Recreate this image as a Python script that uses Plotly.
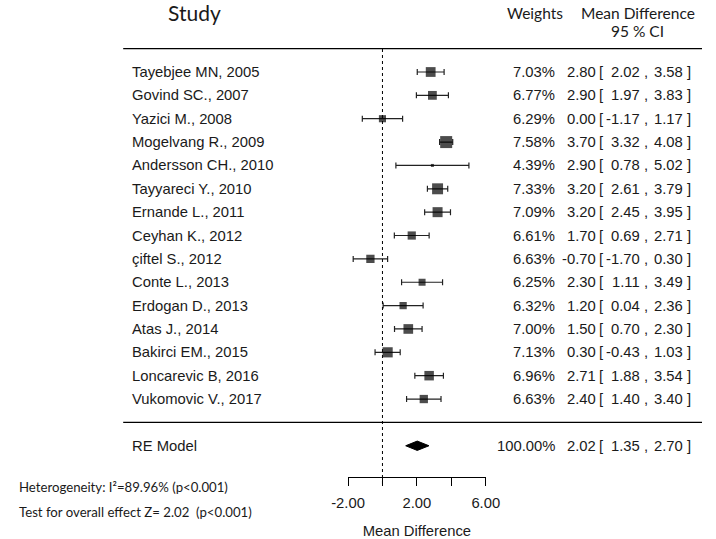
import plotly.graph_objects as go

studies = ["Tayebjee MN, 2005", "Govind SC., 2007", "Yazici M., 2008", "Mogelvang R., 2009",
           "Andersson CH., 2010", "Tayyareci Y., 2010", "Ernande L., 2011", "Ceyhan K., 2012",
           "çiftel S., 2012", "Conte L., 2013", "Erdogan D., 2013", "Atas J., 2014",
           "Bakirci EM., 2015", "Loncarevic B, 2016", "Vukomovic V., 2017"]
weights = [7.03, 6.77, 6.29, 7.58, 4.39, 7.33, 7.09, 6.61, 6.63, 6.25, 6.32, 7.00, 7.13, 6.96, 6.63]
est = [2.80, 2.90, 0.00, 3.70, 2.90, 3.20, 3.20, 1.70, -0.70, 2.30, 1.20, 1.50, 0.30, 2.71, 2.40]
lower = [2.02, 1.97, -1.17, 3.32, 0.78, 2.61, 2.45, 0.69, -1.70, 1.11, 0.04, 0.70, -0.43, 1.88, 1.40]
upper = [3.58, 3.83, 1.17, 4.08, 5.02, 3.79, 3.95, 2.71, 0.30, 3.49, 2.36, 2.30, 1.03, 3.54, 3.40]

re_label = "RE Model"
re_weight = 100.00
re_est, re_lower, re_upper = 2.02, 1.35, 2.70

tick_vals = [-2, 0, 2, 4, 6]
tick_text = ["-2.00", "", "2.00", "", "6.00"]
het_text = "Heterogeneity: I²=89.96% (p<0.001)"
test_text = "Test for overall effect Z= 2.02\u00a0 (p<0.001)"

W, H = 716, 539
ARIAL = "Liberation Sans, Arial, sans-serif"
CAL = "Lato, Carlito, Calibri, sans-serif"
TXT = "#1a1a1a"
FS = 14.8

rows = list(range(1, len(studies) + 1))
re_row = len(studies) + 2

def px(x):
    return x / W

def py(y):
    return 1 - y / H

# marker size from weights (metafor-like scaling)
wmin, wmax = min(weights), max(weights)
sizes = [3 + 9 * ((w - wmin) / (wmax - wmin)) ** 1.5 for w in weights]

fig = go.Figure()

fig.add_trace(go.Scatter(
    x=est, y=rows, mode="markers",
    marker=dict(symbol="square", size=sizes, color="black", line=dict(width=0)),
    error_x=dict(type="data", symmetric=False,
                 array=[u - e for u, e in zip(upper, est)],
                 arrayminus=[e - l for e, l in zip(est, lower)],
                 color="#222222", thickness=1.2, width=3),
    showlegend=False, hoverinfo="skip", cliponaxis=False))

# RE diamond
h = 0.2
fig.add_trace(go.Scatter(
    x=[re_lower, re_est, re_upper, re_est, re_lower],
    y=[re_row, re_row - h, re_row, re_row + h, re_row],
    mode="lines", fill="toself", fillcolor="black",
    line=dict(color="black", width=1), showlegend=False, hoverinfo="skip"))

shapes = []
for yy in [0, len(studies) + 1]:
    shapes.append(dict(type="line", xref="paper", yref="y", x0=px(111), x1=1,
                       y0=yy, y1=yy, line=dict(color="black", width=1.3)))
shapes.append(dict(type="line", xref="x", yref="paper", x0=0, x1=0,
                   y0=py(49), y1=py(485), line=dict(color="black", width=1, dash="dot")))
fig.update_layout(shapes=shapes)

ann = []
def A(text, x, y, xanchor="left", yref="y", font=ARIAL, size=FS):
    ann.append(dict(text=text, x=x, y=y, xref="paper", yref=yref, xanchor=xanchor,
                    yanchor="middle", showarrow=False, borderpad=0, borderwidth=0,
                    font=dict(family=font, size=size, color=TXT)))

def fmt(v):
    return f"{v:.2f}"

def row_text(label, w, e, lo, hi, r):
    A(label, px(120), r)
    A(f"{w:.2f}%", px(562), r, "right")
    A(fmt(e), px(605), r, "right")
    A("[", px(608), r, "left")
    A(fmt(lo), px(651), r, "right")
    A(",", px(655), r, "left")
    A(fmt(hi), px(696), r, "right")
    A("]", px(700), r, "left")

for i, r in enumerate(rows):
    row_text(studies[i], weights[i], est[i], lower[i], upper[i], r)
row_text(re_label, re_weight, re_est, re_lower, re_upper, re_row)

# headers
A("Study", px(186), py(13), "center", "paper", CAL, 21)
A("Weights", px(541), py(13), "center", "paper", CAL, 15.5)
A("Mean Difference", px(649), py(13), "center", "paper", CAL, 15.5)
A("95 % CI", px(649), py(31), "center", "paper", CAL, 15.5)
# footer
A(het_text, px(2), py(487), "left", "paper", CAL, 13.2)
A(test_text, px(2), py(512), "left", "paper", CAL, 13.2)

fig.update_layout(annotations=ann)

fig.update_layout(
    width=W, height=H, margin=dict(l=0, r=0, t=0, b=0),
    paper_bgcolor="white", plot_bgcolor="rgba(0,0,0,0)",
    xaxis=dict(domain=[px(346), px(490)], range=[-2, 6], anchor="free",
               position=(H - 477) / H, showgrid=False, zeroline=False,
               showline=True, linecolor="black", linewidth=1.2,
               ticks="outside", ticklen=8, tickwidth=1.2, tickcolor="black",
               tickvals=tick_vals, ticktext=tick_text, ticklabelstandoff=4,
               tickfont=dict(family=ARIAL, size=FS, color=TXT),
               title=dict(text="Mean Difference", standoff=16,
                          font=dict(family=ARIAL, size=FS, color=TXT))),
    yaxis=dict(domain=[0, 1], range=[H / 23.36 - 72 / 23.36 + 1, 1 - 72 / 23.36],
               visible=False, showgrid=False, zeroline=False),
)

fig.write_html("out.html", config={"displayModeBar": False},
               post_script="document.body.style.margin='0';document.body.style.overflow='hidden';")
